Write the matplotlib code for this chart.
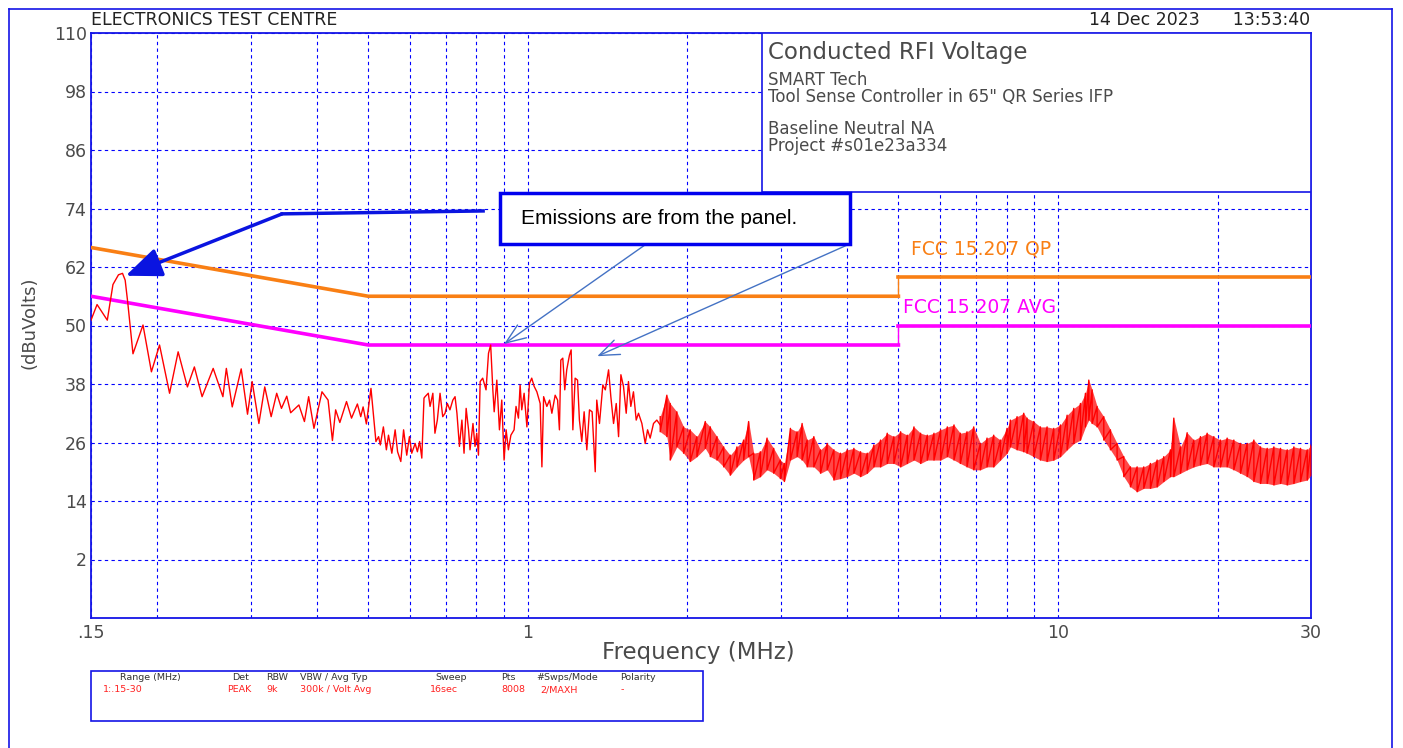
import numpy as np
import matplotlib.pyplot as plt
from matplotlib.patches import Rectangle
from matplotlib.lines import Line2D
from matplotlib.ticker import NullFormatter

plt.rcParams['font.family'] = ['DejaVu Sans']

# Peak trace, low band (MHz, dBuV)
trace_f = [0.150, 0.154, 0.161, 0.165, 0.169, 0.172, 0.174, 0.176, 0.180, 0.188,
           0.195, 0.202, 0.211, 0.219, 0.228, 0.235, 0.243, 0.255, 0.266, 0.270,
           0.277, 0.288, 0.296, 0.302, 0.311, 0.319, 0.328, 0.336, 0.343, 0.351,
           0.357, 0.370, 0.379, 0.386, 0.395, 0.409, 0.420, 0.428, 0.434, 0.442,
           0.455, 0.465, 0.477, 0.484, 0.489, 0.496, 0.506, 0.517,
           0.523, 0.527, 0.534, 0.541, 0.546, 0.554, 0.562, 0.568, 0.576, 0.583,
           0.591, 0.598, 0.604, 0.613, 0.619, 0.625, 0.631, 0.637, 0.640, 0.649,
           0.654, 0.662, 0.668, 0.675, 0.683, 0.691, 0.698, 0.705, 0.713, 0.722,
           0.729, 0.735, 0.743, 0.751, 0.758, 0.765, 0.773, 0.778, 0.788, 0.795,
           0.801, 0.807, 0.813, 0.822, 0.834, 0.843, 0.851, 0.859, 0.864, 0.874,
           0.884, 0.893, 0.902, 0.910, 0.919, 0.929, 0.942, 0.950, 0.960, 0.967,
           0.974, 0.984, 0.996, 1.007, 1.017, 1.028, 1.040, 1.055, 1.063, 1.071,
           1.086, 1.099, 1.110, 1.126, 1.138, 1.147, 1.154, 1.164, 1.174, 1.184,
           1.198, 1.207, 1.216, 1.228, 1.241, 1.251, 1.264, 1.277, 1.292, 1.307,
           1.322, 1.340, 1.349, 1.365, 1.385, 1.400, 1.420, 1.434, 1.451, 1.468,
           1.483, 1.498, 1.515, 1.533, 1.548, 1.564, 1.582, 1.601, 1.617, 1.641,
           1.665, 1.682, 1.701, 1.726, 1.751, 1.777]
trace_db = [51.1, 54.3, 51.1, 58.4, 60.4, 60.7, 59.3, 54.6, 44.2, 50.1,
            40.5, 46.0, 36.1, 44.6, 37.4, 41.5, 35.4, 41.2, 35.4, 41.2,
            33.3, 41.1, 31.8, 38.5, 29.9, 37.4, 31.3, 36.1, 33.0, 35.5,
            32.1, 33.7, 30.3, 35.4, 28.9, 36.4, 34.7, 26.4, 32.7, 30.1,
            34.4, 31.0, 33.9, 31.3, 33.3, 29.8, 37.1, 26.2,
            27.2, 25.5, 29.2, 24.5, 27.5, 23.8, 28.6, 24.1, 22.1, 28.6,
            23.4, 27.2, 23.8, 25.8, 24.1, 26.2, 22.8, 35.1, 35.4, 36.1,
            33.4, 36.1, 27.9, 30.6, 36.1, 31.3, 32.0, 34.0, 32.7, 34.7,
            35.4, 32.0, 25.2, 30.6, 23.8, 33.0, 28.6, 24.5, 29.9, 25.2,
            27.9, 23.4, 38.5, 39.2, 36.8, 44.3, 46.0, 36.8, 32.3, 38.8,
            28.6, 34.7, 22.4, 28.6, 24.5, 27.5, 28.6, 33.4, 31.0, 37.8,
            32.7, 36.1, 29.2, 38.1, 39.2, 37.5, 36.4, 34.0, 21.0, 35.4,
            33.4, 34.7, 32.0, 35.7, 34.7, 28.6, 42.9, 43.3, 36.8, 40.9,
            43.9, 45.0, 28.6, 39.2, 38.8, 30.6, 26.2, 32.3, 24.5, 32.7,
            32.3, 20.0, 34.7, 29.9, 37.8, 36.8, 40.9, 35.4, 29.9, 34.0,
            27.2, 39.9, 37.5, 32.0, 38.5, 33.4, 36.4, 30.6, 32.0, 29.9,
            25.8, 28.6, 26.9, 29.9, 30.6, 29.6]

# Dense part of the sweep: upper / lower edge of the max-hold band
band_f = [1.777, 1.829, 1.856, 1.910, 1.967, 2.024, 2.084, 2.161, 2.209, 2.274,
          2.341, 2.409, 2.480, 2.553, 2.609, 2.667, 2.745, 2.826, 2.909, 2.994,
          3.047, 3.128, 3.220, 3.291, 3.364, 3.463, 3.565, 3.670, 3.778, 3.889,
          4.003, 4.121, 4.242, 4.367, 4.495, 4.627, 4.763, 4.903, 5.048, 5.196,
          5.349, 5.506, 5.668, 5.835, 6.006, 6.183, 6.365,
          6.543, 6.735, 6.934, 7.137, 7.347, 7.563, 7.786, 8.014, 8.131, 8.371,
          8.617, 8.742, 8.999, 9.264, 9.536, 9.817, 10.106, 10.403, 10.708, 11.023,
          11.265, 11.430, 11.596, 11.849, 12.198, 12.556, 12.925, 13.305, 13.696, 14.099,
          14.513, 14.940, 15.379, 15.831, 16.296, 16.534, 17.020, 17.520, 18.035, 18.565,
          19.111, 19.673, 20.251, 20.846, 21.459, 22.090, 22.739, 23.407, 24.095, 24.804,
          25.533, 26.283, 27.056, 27.851, 28.670, 29.513, 30.0]
band_hi = [31.3, 35.7, 34.0, 32.3, 29.2, 28.6, 27.2, 30.3, 29.2, 27.2,
           25.1, 23.4, 25.1, 26.5, 30.3, 23.8, 24.1, 26.9, 24.8, 22.4,
           21.7, 28.9, 28.2, 29.9, 26.5, 27.2, 24.5, 25.8, 24.5, 23.8,
           24.5, 24.8, 24.1, 23.8, 25.5, 26.5, 27.9, 27.2, 28.2, 27.5,
           29.2, 27.9, 27.5, 27.9, 28.6, 29.2, 29.6,
           27.9, 28.2, 29.2, 25.8, 26.9, 27.5, 26.5, 28.9, 30.6, 31.3,
           32.0, 31.0, 30.3, 29.2, 29.2, 28.9, 29.6, 31.6, 33.0, 34.0,
           36.1, 38.8, 36.8, 33.4, 31.3, 28.6, 25.8, 23.1, 21.0, 21.0,
           21.0, 21.7, 22.4, 23.1, 24.5, 31.0, 25.1, 28.0, 26.5, 27.2,
           27.9, 27.2, 26.5, 26.9, 26.5, 25.8, 25.8, 26.5, 25.1, 24.8,
           25.1, 24.8, 24.5, 25.1, 24.8, 24.5, 25.5]
band_lo = [28.2, 27.2, 22.4, 25.1, 23.8, 22.1, 23.1, 24.8, 23.1, 22.4,
           21.0, 19.3, 21.0, 22.4, 23.1, 18.3, 19.0, 20.4, 19.7, 18.6,
           18.0, 22.4, 23.1, 22.4, 21.0, 21.0, 19.7, 20.4, 18.3, 18.6,
           19.0, 19.7, 19.0, 19.7, 21.0, 21.0, 21.7, 21.7, 21.0, 21.7,
           22.4, 21.7, 22.4, 22.4, 22.4, 23.1, 22.4,
           21.7, 21.0, 20.4, 20.4, 21.0, 21.0, 22.4, 23.8, 25.1, 24.5,
           24.1, 23.8, 23.1, 22.4, 22.1, 22.4, 23.1, 24.5, 25.8, 26.5,
           29.2, 30.6, 29.9, 29.2, 26.5, 24.5, 22.4, 19.0, 16.9, 15.9,
           16.6, 16.6, 16.9, 18.0, 19.0, 19.0, 19.7, 20.4, 21.0, 21.4,
           21.7, 21.0, 21.0, 21.0, 20.4, 19.7, 19.0, 18.0, 17.6, 17.6,
           17.3, 17.6, 17.3, 17.6, 18.0, 18.3, 19.3]

# FCC 15.207 limits
limit_f = [0.15, 0.5, 5.0, 5.0, 30.0]
qp_db = [66, 56, 56, 60, 60]
avg_db = [56, 46, 46, 50, 50]

y_ticks = [2, 14, 26, 38, 50, 62, 74, 86, 98, 110]
x_ticks = [0.15, 1, 10, 30]
x_tick_labels = ['.15', '1', '10', '30']
x_grid = [0.2, 0.3, 0.4, 0.5, 0.6, 0.7, 0.8, 0.9, 2, 3, 4, 5, 6, 7, 8, 9, 20]

W, H = 1403, 748
BLUE = '#1414E6'
GRAY = '#4a4a4a'
ORANGE = '#F97F14'
MAGENTA = '#FF00FF'

def fx(x):
    return x / W

def fy(y):
    return 1 - y / H

fig = plt.figure(figsize=(W / 100, H / 100), dpi=100)
ax = fig.add_axes([fx(91), fy(618), 1220 / W, 585 / H])
ax.set_xscale('log')
ax.set_xlim(0.15, 30)
ax.set_ylim(-10, 110)

ax.set_yticks(y_ticks)
ax.set_xticks(x_ticks)
ax.set_xticklabels(x_tick_labels)
ax.set_xticks(x_grid, minor=True)
ax.xaxis.set_minor_formatter(NullFormatter())
ax.tick_params(axis='both', which='both', length=0, colors=GRAY, labelsize=12.5)
ax.tick_params(axis='y', pad=3)
ax.tick_params(axis='x', pad=4)
ax.set_axisbelow(True)
ax.grid(axis='y', which='major', color='#0000FF', lw=0.8, linestyle=(0, (3, 3)))
ax.grid(axis='x', which='both', color='#0000FF', lw=0.8, linestyle=(0, (3, 3)))
for s in ax.spines.values():
    s.set_color(BLUE)
    s.set_linewidth(1.3)

# limit lines (thick horizontals, thin step at 5 MHz)
ax.plot(limit_f[:3], qp_db[:3], color=ORANGE, lw=2.6, zorder=3)
ax.plot(limit_f[3:], qp_db[3:], color=ORANGE, lw=2.6, zorder=3)
ax.plot(limit_f[2:4], qp_db[2:4], color=ORANGE, lw=1, zorder=3)
ax.plot(limit_f[:3], avg_db[:3], color=MAGENTA, lw=2.6, zorder=3)
ax.plot(limit_f[3:], avg_db[3:], color=MAGENTA, lw=2.6, zorder=3)
ax.plot(limit_f[2:4], avg_db[2:4], color=MAGENTA, lw=1, zorder=3)

# measured trace: sparse part as a line, dense part as a band
ax.plot(trace_f, trace_db, color='#FF0000', lw=1.0, zorder=4)
ax.fill_between(band_f, band_lo, band_hi, color='#FF1A1A', alpha=0.8, lw=0, zorder=4)
zig_f = np.repeat(band_f, 2)
zig_db = np.column_stack([band_hi, band_lo]).ravel()
ax.plot(zig_f, zig_db, color='#FF0000', lw=1.0, zorder=4)

ax.text(5.28, 65.7, 'FCC 15.207 QP', color=ORANGE, fontsize=13.5, va='center')
ax.text(5.11, 53.6, 'FCC 15.207 AVG', color=MAGENTA, fontsize=13.5, va='center')

# header box in the upper right
ax.add_patch(Rectangle((0.55, 0.7282), 0.45, 0.2718, transform=ax.transAxes,
                       facecolor='white', edgecolor=BLUE, lw=1.2, zorder=5))
fig.text(fx(768), fy(52), 'Conducted RFI Voltage', fontsize=16.5, color=GRAY, va='center')
fig.text(fx(768), fy(80), 'SMART Tech', fontsize=12, color=GRAY, va='center')
fig.text(fx(768), fy(97), 'Tool Sense Controller in 65" QR Series IFP', fontsize=12, color=GRAY, va='center')
fig.text(fx(768), fy(129), 'Baseline Neutral NA', fontsize=12, color=GRAY, va='center')
fig.text(fx(768), fy(146), 'Project #s01e23a334', fontsize=12, color=GRAY, va='center')

# arrows
arrow_blue = '#0A14E0'
ax.plot([0.8235, 0.344], [73.5, 72.9], color=arrow_blue, lw=2.5, zorder=6)
ax.annotate('', xy=(0.1744, 60.2), xytext=(0.344, 72.9),
            arrowprops=dict(arrowstyle='-|>,head_length=1.1,head_width=0.45', color=arrow_blue,
                            lw=2.5, mutation_scale=20, shrinkA=0, shrinkB=0), zorder=6)
thin = dict(arrowstyle='->,head_length=0.9,head_width=0.35', color='#4472C4', lw=1,
            mutation_scale=16, shrinkA=0, shrinkB=0)
ax.annotate('', xy=(0.902, 46.2), xytext=(1.672, 66.7), arrowprops=thin, zorder=6)
ax.annotate('', xy=(1.352, 43.7), xytext=(4.04, 66.7), arrowprops=thin, zorder=6)

fig.add_artist(Rectangle((fx(500), fy(244)), 350 / W, 51 / H, transform=fig.transFigure,
                         facecolor='white', edgecolor='#0000EE', lw=2.5))
fig.text(fx(521), fy(218), 'Emissions are from the panel.', family='Liberation Sans',
         fontsize=15, color='black', va='center')

# page texts
fig.text(fx(91), fy(20), 'ELECTRONICS TEST CENTRE', fontsize=12.5, color='#222222', va='center')
fig.text(fx(1310), fy(20), '14 Dec 2023      13:53:40', fontsize=12.5, color='#222222', va='center', ha='right')
fig.text(fx(698), fy(652), 'Frequency (MHz)', fontsize=16.5, color=GRAY, va='center', ha='center')
fig.text(fx(29), fy(323), '(dBuVolts)', fontsize=13, color=GRAY, va='center', ha='center', rotation=90)

# settings table
fig.add_artist(Rectangle((fx(91), fy(721)), 612 / W, 50 / H, transform=fig.transFigure,
                         facecolor='none', edgecolor=BLUE, lw=1.2))
head = [(120, 'Range (MHz)'), (232, 'Det'), (266, 'RBW'), (300, 'VBW / Avg Typ'),
        (435, 'Sweep'), (501, 'Pts'), (536, '#Swps/Mode'), (620, 'Polarity')]
vals = [(103, '1:.15-30'), (227, 'PEAK'), (266, '9k'), (300, '300k / Volt Avg'),
        (430, '16sec'), (501, '8008'), (540, '2/MAXH'), (621, '-')]
for x, t in head:
    fig.text(fx(x), fy(678), t, fontsize=6.8, color='#333333', va='center')
for x, t in vals:
    fig.text(fx(x), fy(690), t, fontsize=6.8, color='#FF2020', va='center')

# page frame
for xs, ys in [([9, 1392], [9, 9]), ([9, 9], [9, 748]), ([1392, 1392], [9, 748])]:
    fig.add_artist(Line2D([fx(v) for v in xs], [fy(v) for v in ys], color=BLUE, lw=1.2))

fig.savefig('out.png', dpi=100)
